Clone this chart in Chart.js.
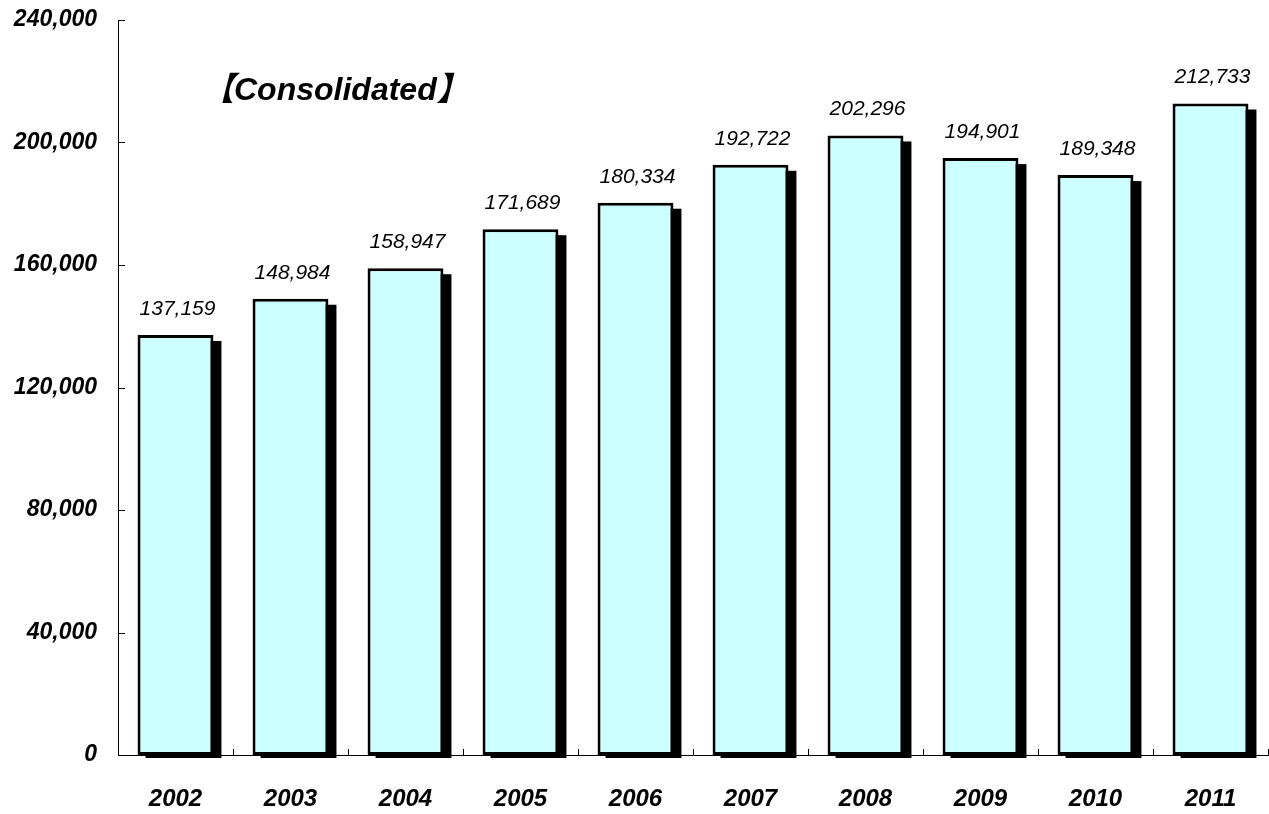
<!DOCTYPE html>
<html>
<head>
<meta charset="utf-8">
<script src="https://cdn.jsdelivr.net/npm/chart.js@4"></script>
<style>
  html, body { margin: 0; padding: 0; background: #fff; }
  #wrap { width: 1269px; height: 814px; }
</style>
</head>
<body>
<div id="wrap"><canvas id="chart-consolidated" width="1269" height="814"></canvas></div>
<script>
const years = ['2002', '2003', '2004', '2005', '2006', '2007', '2008', '2009', '2010', '2011'];
const sales = [137159, 148984, 158947, 171689, 180334, 192722, 202296, 194901, 189348, 212733];
const yMin = 0;
const yMax = 240000;
const yStep = 40000;
const titleText = '【Consolidated】';

const FONT = '"Liberation Sans", Arial, "Noto Sans CJK JP", sans-serif';

// black drop shadow behind every bar
const barShadow = {
  id: 'barShadow',
  beforeDatasetsDraw(chart) {
    const ctx = chart.ctx;
    const meta = chart.getDatasetMeta(0);
    ctx.save();
    ctx.fillStyle = '#000';
    meta.data.forEach(bar => {
      const w = bar.width;
      ctx.fillRect(bar.x - w / 2 + 8, bar.y + 6, w, bar.base - bar.y - 3);
    });
    ctx.restore();
  }
};

// inward tick marks on both axes, value labels and the title
const extras = {
  id: 'extras',
  afterDraw(chart) {
    const ctx = chart.ctx;
    const area = chart.chartArea;
    const x = chart.scales.x;
    const y = chart.scales.y;
    const step = x.getPixelForValue(1) - x.getPixelForValue(0);
    ctx.save();
    ctx.strokeStyle = '#000';
    ctx.lineWidth = 1;
    ctx.beginPath();
    y.ticks.forEach(t => {
      const py = Math.round(y.getPixelForValue(t.value)) + 0.5;
      ctx.moveTo(area.left, py);
      ctx.lineTo(area.left + 7, py);
    });
    for (let i = 1; i <= years.length; i++) {
      const px = Math.round(x.getPixelForValue(i - 1) + step / 2) + 0.5;
      ctx.moveTo(px, area.bottom);
      ctx.lineTo(px, area.bottom - 6);
    }
    ctx.stroke();

    const meta = chart.getDatasetMeta(0);
    ctx.fillStyle = '#000';
    ctx.font = 'italic 21px ' + FONT;
    ctx.textAlign = 'center';
    ctx.textBaseline = 'middle';
    meta.data.forEach((bar, i) => {
      ctx.fillText(sales[i].toLocaleString('en-US'), bar.x + 2, bar.y - 26);
    });

    ctx.font = 'italic bold 32px ' + FONT;
    ctx.textAlign = 'left';
    ctx.fillText(titleText, area.left + 84, area.top + 71);
    ctx.restore();
  }
};

new Chart(document.getElementById('chart-consolidated'), {
  type: 'bar',
  data: {
    labels: years,
    datasets: [{
      data: sales,
      backgroundColor: '#CCFFFF',
      borderColor: '#000',
      borderWidth: 3,
      borderSkipped: false,
      categoryPercentage: 1,
      barPercentage: 0.66
    }]
  },
  options: {
    responsive: false,
    animation: false,
    layout: { padding: { top: 20, right: 1, left: 0, bottom: 0 } },
    plugins: {
      legend: { display: false },
      tooltip: { enabled: false }
    },
    scales: {
      x: {
        grid: { display: false, drawTicks: false },
        border: { display: true, color: '#000', width: 1 },
        ticks: {
          color: '#000',
          padding: 30,
          font: { family: FONT, size: 24, style: 'italic', weight: 'bold' }
        },
        afterFit(scale) { scale.height = 59; }
      },
      y: {
        min: yMin,
        max: yMax,
        grid: { display: false, drawTicks: false },
        border: { display: true, color: '#000', width: 1 },
        ticks: {
          stepSize: yStep,
          color: '#000',
          padding: 21,
          font: { family: FONT, size: 23, style: 'italic', weight: 'bold' },
          callback: v => v.toLocaleString('en-US')
        },
        afterFit(scale) {
          scale.width = 118;
          scale.paddingTop = 0;
          scale.paddingBottom = 0;
        }
      }
    }
  },
  plugins: [barShadow, extras]
});
</script>
</body>
</html>
